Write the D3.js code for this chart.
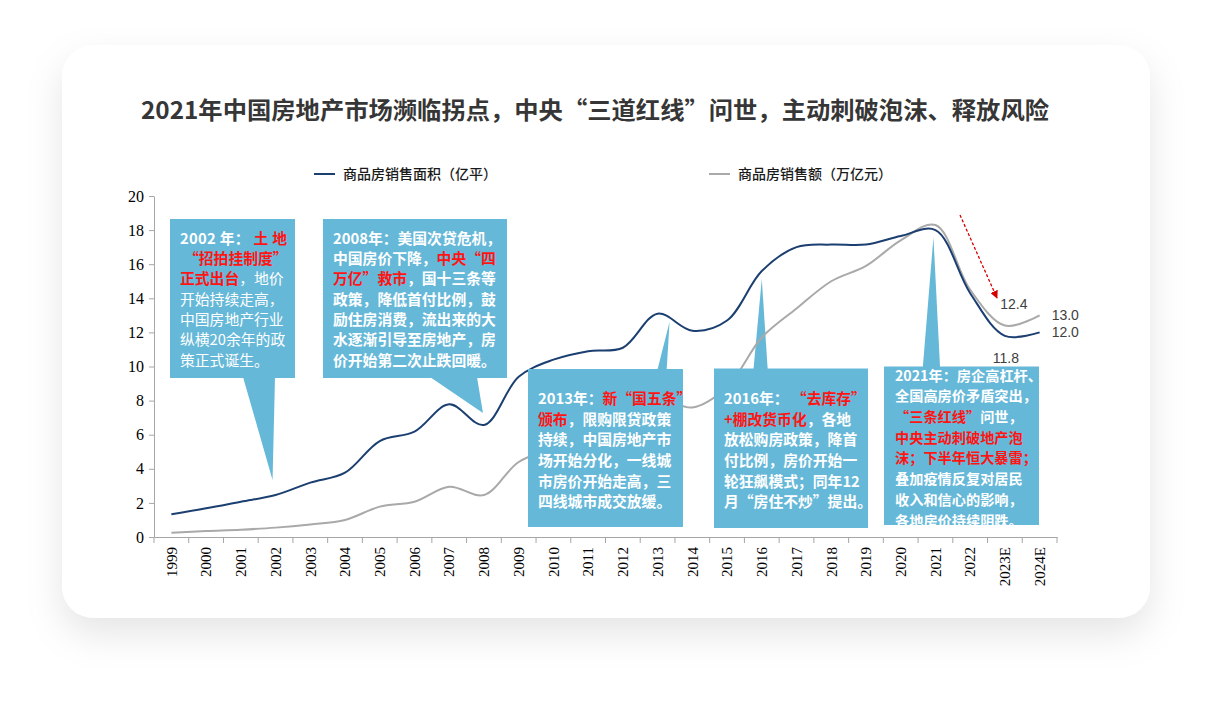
<!DOCTYPE html>
<html lang="zh">
<head>
<meta charset="utf-8">
<title>房地产市场</title>
<script src="https://d3js.org/d3.v7.min.js"></script>
<style>
  body { margin: 0; background: #fff; }
  svg { display: block; }
</style>
</head>
<body>
<div id="viz"></div>
<script>
// categories and series
const years = ["1999","2000","2001","2002","2003","2004","2005","2006","2007","2008","2009","2010","2011",
  "2012","2013","2014","2015","2016","2017","2018","2019","2020","2021","2022","2023E","2024E"];
const salesArea = [1.33,1.68,2.07,2.46,3.19,3.77,5.63,6.18,7.78,6.57,9.4,10.4,10.9,11.1,13.1,12.1,12.7,
  15.6,17.0,17.15,17.15,17.65,18.0,14.3,11.8,12.0];
const salesValue = [0.25,0.35,0.43,0.55,0.74,1.0,1.78,2.07,2.95,2.46,4.4,5.2,5.9,6.4,8.1,7.6,8.8,
  11.7,13.4,15.0,15.9,17.4,18.3,14.5,12.4,13.0];
const yTicks = [0,2,4,6,8,10,12,14,16,18,20];
const seriesNames = ["商品房销售面积（亿平）", "商品房销售额（万亿元）"];
const title = "2021年中国房地产市场濒临拐点，中央“三道红线”问世，主动刺破泡沫、释放风险";

const W = 1213, H = 721;
const margin = {top: 196, right: 156, bottom: 184, left: 154};
const blue = "#1b3f70", gray = "#a9a9a9", boxFill = "#66b8d8", red = "#ff1414";

const svg = d3.select("#viz").append("svg")
  .attr("width", W).attr("height", H)
  .style("font-family", "'Noto Sans CJK SC', 'Noto Sans', sans-serif");

// card with soft shadow
const defs = svg.append("defs");
const f = defs.append("filter").attr("id", "shadow")
  .attr("x", "-20%").attr("y", "-20%").attr("width", "140%").attr("height", "150%");
f.append("feDropShadow").attr("dx", 0).attr("dy", 16).attr("stdDeviation", 18)
  .attr("flood-color", "#000").attr("flood-opacity", 0.10);
svg.append("rect").attr("x", 62).attr("y", 45).attr("width", 1088).attr("height", 573)
  .attr("rx", 32).attr("fill", "#fff").attr("filter", "url(#shadow)");

svg.append("text").attr("x", 595).attr("y", 119).attr("text-anchor", "middle")
  .attr("font-size", 23.5).attr("font-weight", 700).attr("fill", "#363636")
  .attr("textLength", 908).attr("lengthAdjust", "spacingAndGlyphs")
  .text(title);

// scales
const x = d3.scaleBand().domain(years).range([margin.left, W - margin.right]);
const y = d3.scaleLinear().domain([0, 20]).range([H - margin.bottom, margin.top]);
const cx = d => x(d) + x.bandwidth() / 2;

// legend
const legend = [
  {name: seriesNames[0], color: blue, x: 314},
  {name: seriesNames[1], color: gray, x: 709}
];
legend.forEach(l => {
  svg.append("line").attr("x1", l.x).attr("x2", l.x + 21).attr("y1", 174).attr("y2", 174)
    .attr("stroke", l.color).attr("stroke-width", 2);
  svg.append("text").attr("x", l.x + 29).attr("y", 174).attr("dy", "0.35em")
    .attr("font-size", 14).attr("font-weight", 500).attr("fill", "#1a1a1a").text(l.name);
});

// y axis
const yAxis = svg.append("g").attr("transform", `translate(${margin.left},0)`)
  .call(d3.axisLeft(y).tickValues(yTicks).tickSize(5).tickSizeOuter(0).tickPadding(5));
yAxis.select(".domain").attr("stroke", "#a6a6a6");
yAxis.selectAll(".tick line").attr("stroke", "#a6a6a6");
yAxis.selectAll("text").attr("font-family", "'Liberation Serif', serif").attr("font-size", 16).attr("fill", "#000");

// x axis
const xAxis = svg.append("g").attr("transform", `translate(0,${y(0)})`)
  .call(d3.axisBottom(x).tickSize(0).tickSizeOuter(0));
xAxis.select(".domain").attr("stroke", "#a6a6a6");
xAxis.selectAll("text")
  .attr("font-family", "'Liberation Serif', serif").attr("font-size", 15).attr("fill", "#000")
  .attr("transform", "rotate(-90)").attr("text-anchor", "end")
  .attr("x", -10).attr("y", 0).attr("dy", "0.35em");
const bounds = years.map(d => x(d)).concat([x.range()[1]]);
xAxis.selectAll(".bound").data(bounds).join("line").attr("class", "bound")
  .attr("x1", d => d).attr("x2", d => d).attr("y1", 0).attr("y2", 6)
  .attr("stroke", "#a6a6a6");

// callout layout (annotation boxes), tips anchored on data scales
const callouts = [
  {box: [170, 219, 295, 378], base: [243, 275], tip: ["2002", -3, 3.34], tx: 180, ty: 238.5, lh: 20.3, fs: 14.8,
   lines: [
     {segs: [["2002 年： ", "#fff", 700], ["土 地", red, 700]], len: 107},
     {segs: [["“招拍挂制度”", red, 700]], dx: 4},
     {segs: [["正式出台", red, 700], ["，地价", "#fff", 400]]},
     {segs: [["开始持续走高，", "#fff", 400]]},
     {segs: [["中国房地产行业", "#fff", 400]]},
     {segs: [["纵横20余年的政", "#fff", 400]]},
     {segs: [["策正式诞生。", "#fff", 400]]}
   ]},
  {box: [323, 219, 507, 378], base: [430, 477], tip: ["2008", -1, 7.27], tx: 333, ty: 238.5, lh: 20.3, fs: 14.8,
   lines: [
     {segs: [["2008年：美国次贷危机，", "#fff", 700]]},
     {segs: [["中国房价下降，", "#fff", 700], ["中央“四", red, 700]]},
     {segs: [["万亿”救市", red, 700], ["，国十三条等", "#fff", 700]]},
     {segs: [["政策，降低首付比例，鼓", "#fff", 700]]},
     {segs: [["励住房消费，流出来的大", "#fff", 700]]},
     {segs: [["水逐渐引导至房地产，房", "#fff", 700]]},
     {segs: [["价开始第二次止跌回暖。", "#fff", 700]]}
   ]},
  {box: [528, 369, 683, 527], base: [618, 657], tip: ["2013", 12, 12.63], tx: 538, ty: 398.5, lh: 20.7, fs: 14.8,
   lines: [
     {segs: [["2013年：", "#fff", 700], ["新“国五条”", red, 700]]},
     {segs: [["颁布", red, 700], ["，限购限贷政策", "#fff", 700]]},
     {segs: [["持续，中国房地产市", "#fff", 700]]},
     {segs: [["场开始分化，一线城", "#fff", 700]]},
     {segs: [["市房价开始走高，三", "#fff", 700]]},
     {segs: [["四线城市成交放缓。", "#fff", 700]]}
   ]},
  {box: [714, 368.5, 868, 528], base: [739, 778], tip: ["2016", 0, 15.13], tx: 724, ty: 398.5, lh: 20.7, fs: 14.8,
   lines: [
     {segs: [["2016年：", "#fff", 700], [" “去库存”", red, 700]]},
     {segs: [["+棚改货币化", red, 700], ["，各地", "#fff", 700]]},
     {segs: [["放松购房政策，降首", "#fff", 700]]},
     {segs: [["付比例，房价开始一", "#fff", 700]]},
     {segs: [["轮狂飙模式；同年12", "#fff", 700]]},
     {segs: [["月“房住不炒”提出。", "#fff", 700]]}
   ]},
  {box: [884, 366.5, 1039, 525], base: [910, 948], tip: ["2021", -2, 17.58], tx: 895, ty: 375.5, lh: 20.7, fs: 14.2,
   lines: [
     {segs: [["2021年：房企高杠杆、", "#fff", 700]]},
     {segs: [["全国高房价矛盾突出，", "#fff", 700]]},
     {segs: [["“三条红线”", red, 700], ["问世，", "#fff", 700]]},
     {segs: [["中央主动刺破地产泡", red, 700]]},
     {segs: [["沫；下半年恒大暴雷；", red, 700]]},
     {segs: [["叠加疫情反复对居民", "#fff", 700]]},
     {segs: [["收入和信心的影响，", "#fff", 700]]},
     {segs: [["各地房价持续阴跌。", "#fff", 700]]}
   ]}
];

// pointers under the lines
callouts.forEach(c => {
  const tx = cx(c.tip[0]) + c.tip[1], ty = y(c.tip[2]);
  svg.append("path")
    .attr("d", `M${c.base[0]},${c.box[3] - 1}L${c.base[1]},${c.box[3] - 1}L${tx},${ty}Z`)
    .attr("fill", boxFill);
});

// lines
const line = d3.line().x((d, i) => cx(years[i])).y(d => y(d)).curve(d3.curveCatmullRom.alpha(0.5));
svg.append("path").datum(salesValue).attr("fill", "none").attr("stroke", gray)
  .attr("stroke-width", 2).attr("d", line);
svg.append("path").datum(salesArea).attr("fill", "none").attr("stroke", blue)
  .attr("stroke-width", 2).attr("d", line);

// boxes and texts above the lines
callouts.forEach((c, k) => {
  const [x0, y0, x1, y1] = c.box;
  defs.append("clipPath").attr("id", "clip" + k).append("rect")
    .attr("x", x0 - 10).attr("y", y0).attr("width", x1 - x0 + 20).attr("height", y1 - y0);
  svg.append("rect").attr("x", x0).attr("y", y0).attr("width", x1 - x0).attr("height", y1 - y0)
    .attr("fill", boxFill);
  const g = svg.append("g").attr("clip-path", `url(#clip${k})`);
  c.lines.forEach((ln, i) => {
    const t = g.append("text").attr("x", c.tx + (ln.dx || 0)).attr("y", c.ty + i * c.lh)
      .attr("dy", "0.36em").attr("font-size", c.fs).style("white-space", "pre");
    if (ln.len) t.attr("textLength", ln.len).attr("lengthAdjust", "spacing");
    ln.segs.forEach(s => t.append("tspan").attr("fill", s[1]).attr("font-weight", s[2]).text(s[0]));
  });
});

// value labels
const lab = (txt, xx, yy, anchor) => svg.append("text").attr("x", xx).attr("y", yy).attr("dy", "0.35em")
  .attr("text-anchor", anchor).attr("font-family", "'Liberation Sans', Arial, sans-serif")
  .attr("font-size", 14).attr("fill", "#404040").text(txt);
const last = years.length - 1;
lab(salesValue[last - 1].toFixed(1), cx(years[last - 1]) + 9, y(salesValue[last - 1]) - 21, "middle");
lab(salesValue[last].toFixed(1), cx(years[last]) + 12, y(salesValue[last]), "start");
lab(salesArea[last].toFixed(1), cx(years[last]) + 12, y(salesArea[last]), "start");
lab(salesArea[last - 1].toFixed(1), cx(years[last - 1]) + 1, y(salesArea[last - 1]) + 22, "middle");

// red dashed arrow
defs.append("marker").attr("id", "arrow").attr("viewBox", "0 0 10 10").attr("refX", 9).attr("refY", 5)
  .attr("markerWidth", 8).attr("markerHeight", 8).attr("markerUnits", "userSpaceOnUse")
  .attr("orient", "auto")
  .append("path").attr("d", "M0,0L10,5L0,10Z").attr("fill", "#d40000");
svg.append("line").attr("x1", 960).attr("y1", 215).attr("x2", 997).attr("y2", 298)
  .attr("stroke", "#d40000").attr("stroke-width", 1.3).attr("stroke-dasharray", "3,2")
  .attr("marker-end", "url(#arrow)");
</script>
</body>
</html>
